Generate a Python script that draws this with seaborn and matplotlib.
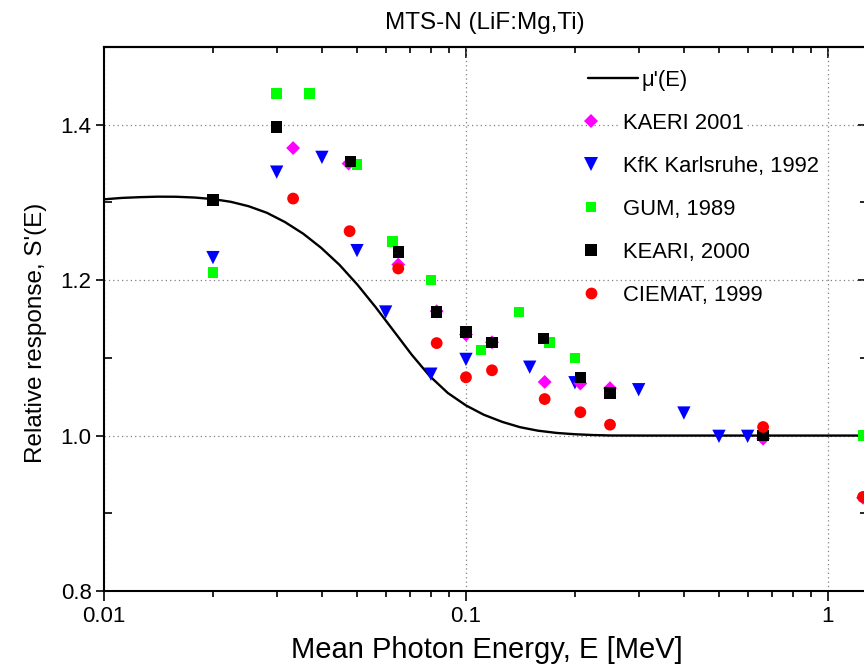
import numpy as np
import pandas as pd
import matplotlib
matplotlib.use("Agg")
import matplotlib.pyplot as plt
import seaborn as sns
from matplotlib.ticker import FixedLocator, NullFormatter, FixedFormatter, LogLocator
from matplotlib.lines import Line2D

# ---------------- data ----------------
curve_E = [0.0100, 0.0112, 0.0126, 0.0141, 0.0158, 0.0178, 0.0200, 0.0224, 0.0251,
           0.0282, 0.0316, 0.0355, 0.0398, 0.0447, 0.0501, 0.0562, 0.0631, 0.0708,
           0.0794, 0.0891, 0.100, 0.112, 0.126, 0.141, 0.158, 0.178, 0.200, 0.224,
           0.251, 0.316, 0.501, 1.00, 1.29]
curve_mu = [1.3040, 1.3058, 1.3068, 1.3074, 1.3073, 1.3063, 1.3043, 1.3008, 1.2951,
            1.2866, 1.2748, 1.2598, 1.2416, 1.2198, 1.1943, 1.1656, 1.1348, 1.1041,
            1.0766, 1.0548, 1.0388, 1.0268, 1.0176, 1.0108, 1.0063, 1.0034, 1.0017, 1.0007,
            1.0001, 1.0000, 1.0000, 1.0000, 1.0000]

kaeri01_E = [0.0333, 0.0474, 0.065, 0.083, 0.100, 0.118, 0.165, 0.207, 0.250, 0.662, 1.25]
kaeri01_S = [1.370, 1.350, 1.220, 1.160, 1.130, 1.120, 1.069, 1.067, 1.061, 0.996, 0.920]

kfk_E = [0.020, 0.030, 0.040, 0.050, 0.060, 0.080, 0.100, 0.150, 0.200, 0.300, 0.400, 0.500, 0.600]
kfk_S = [1.229, 1.339, 1.358, 1.238, 1.159, 1.079, 1.098, 1.088, 1.068, 1.059, 1.029, 0.999, 0.999]

gum_E = [0.020, 0.030, 0.037, 0.050, 0.0627, 0.080, 0.110, 0.140, 0.170, 0.200, 1.25]
gum_S = [1.210, 1.440, 1.440, 1.349, 1.250, 1.200, 1.110, 1.159, 1.120, 1.100, 1.000]

keari00_E = [0.020, 0.030, 0.048, 0.065, 0.083, 0.100, 0.118, 0.164, 0.207, 0.250, 0.662]
keari00_S = [1.303, 1.397, 1.353, 1.236, 1.159, 1.133, 1.120, 1.125, 1.075, 1.055, 1.000]

ciemat_E = [0.0333, 0.0477, 0.065, 0.083, 0.100, 0.118, 0.165, 0.207, 0.250, 0.662, 1.25]
ciemat_S = [1.305, 1.263, 1.215, 1.119, 1.075, 1.084, 1.047, 1.030, 1.014, 1.011, 0.921]

title = "MTS-N (LiF:Mg,Ti)"
xlabel = "Mean Photon Energy, E [MeV]"
ylabel = "Relative response, S'(E)"
curve_label = "\u03bc'(E)"
xtick_vals = [0.01, 0.1, 1]
xtick_labels = ["0.01", "0.1", "1"]
ytick_vals = [0.8, 1.0, 1.2, 1.4]
ytick_labels = ["0.8", "1.0", "1.2", "1.4"]
yminor_vals = [0.9, 1.1, 1.3, 1.5]

# ---------------- style ----------------
sns.set_theme(style="white")
plt.rcParams['font.family'] = ['Liberation Sans', 'DejaVu Sans']
for k in ['text.color', 'axes.labelcolor', 'xtick.color', 'ytick.color', 'axes.edgecolor']:
    plt.rcParams[k] = 'black'

W, H = 864, 666
fig = plt.figure(figsize=(W / 100, H / 100), dpi=100)
L, R, T, B = 104, 866, 47, 591
ax = fig.add_axes([L / W, 1 - B / H, (R - L) / W, (B - T) / H])
ax.set_xscale('log')
ax.set_xlim(0.01, 1.274)
ax.set_ylim(0.8, 1.5)

# curve
curve_df = pd.DataFrame({"E": curve_E, "mu": curve_mu})
sns.lineplot(data=curve_df, x="E", y="mu", ax=ax, color="black", lw=1.7,
             zorder=2, legend=False, estimator=None, sort=False,
             solid_joinstyle='round')

series = [
    ("KAERI 2001", kaeri01_E, kaeri01_S, "D", "#ff00ff", 50, 4),
    ("KfK Karlsruhe, 1992", kfk_E, kfk_S, "v", "#0000ff", 92, 3),
    ("GUM, 1989", gum_E, gum_S, "s", "#00ff00", 58, 3),
    ("KEARI, 2000", keari00_E, keari00_S, "s", "#000000", 68, 5),
    ("CIEMAT, 1999", ciemat_E, ciemat_S, "o", "#ff0000", 72, 6),
]
for name, xs, ys, mk, col, sz, zo in series:
    df = pd.DataFrame({"E": xs, "S": ys})
    sns.scatterplot(data=df, x="E", y="S", ax=ax, marker=mk, color=col, s=sz,
                    edgecolor="none", linewidth=0, zorder=zo, legend=False)

ax.set_axisbelow(True)
ax.grid(True, which='major', linestyle=(0, (1, 2.5)), color='#808080', lw=0.9)

# ticks main
ax.xaxis.set_major_locator(FixedLocator(xtick_vals))
ax.xaxis.set_major_formatter(FixedFormatter(xtick_labels))
ax.xaxis.set_minor_locator(LogLocator(base=10, subs=np.arange(2, 10)))
ax.xaxis.set_minor_formatter(NullFormatter())
ax.yaxis.set_major_locator(FixedLocator(ytick_vals))
ax.yaxis.set_major_formatter(FixedFormatter(ytick_labels))
ax.yaxis.set_minor_locator(FixedLocator(yminor_vals))
ax.tick_params(axis='x', which='major', direction='out', length=7, width=1.2,
               labelsize=16, pad=4, top=False, bottom=True)
ax.tick_params(axis='x', which='minor', direction='out', length=4, width=1.2,
               top=False, bottom=True)
ax.tick_params(axis='y', which='major', direction='out', length=6, width=1.2,
               labelsize=16, pad=3, left=True, right=False)
ax.tick_params(axis='y', which='minor', direction='in', length=6, width=1.2,
               left=True, right=False)
for sp in ax.spines.values():
    sp.set_color('black')
    sp.set_linewidth(1.5)

# top / right inward ticks
secx = ax.secondary_xaxis('top')
secx.xaxis.set_major_locator(FixedLocator(xtick_vals))
secx.xaxis.set_minor_locator(LogLocator(base=10, subs=np.arange(2, 10)))
secx.xaxis.set_major_formatter(NullFormatter())
secx.xaxis.set_minor_formatter(NullFormatter())
secx.tick_params(which='major', direction='in', length=8, width=1.2)
secx.tick_params(which='minor', direction='in', length=4, width=1.2)
secx.spines['top'].set_linewidth(1.5)

secy = ax.secondary_yaxis('right')
secy.yaxis.set_major_locator(FixedLocator(ytick_vals))
secy.yaxis.set_minor_locator(FixedLocator(yminor_vals))
secy.yaxis.set_major_formatter(NullFormatter())
secy.tick_params(which='major', direction='in', length=6, width=1.2)
secy.tick_params(which='minor', direction='in', length=4, width=1.2)

# labels
ax.set_title(title, fontsize=17.5, pad=13)
ax.set_xlabel(xlabel, fontsize=21)
ax.set_ylabel(ylabel, fontsize=17.5)
ax.xaxis.set_label_coords((487 - L) / (R - L), (B - 636) / (B - T))
ax.yaxis.set_label_coords((47 - L) / (R - L), (B - 333) / (B - T))

# legends
line_h = [Line2D([], [], color='black', lw=1.7)]
leg1 = fig.legend(line_h, [curve_label], loc='upper left',
                  bbox_to_anchor=(588 / W, 1 - 70 / H), frameon=False,
                  borderpad=0, borderaxespad=0, handlelength=2.3,
                  handletextpad=0.15, fontsize=15.8)
mk_h = [Line2D([], [], ls='none', marker=mk, color=col, markeredgewidth=0,
               markersize=np.sqrt(sz)) for _, _, _, mk, col, sz, _ in series]
leg2 = fig.legend(mk_h, [s[0] for s in series], loc='upper left',
                  bbox_to_anchor=(580 / W, 1 - 113 / H), frameon=False,
                  borderpad=0, borderaxespad=0, handlelength=1.0,
                  handletextpad=0.95, labelspacing=1.0, fontsize=15.8)
for t in leg2.get_texts():
    t.set_bbox(dict(facecolor='white', edgecolor='none', pad=2))

fig.savefig("out.png", dpi=100)
